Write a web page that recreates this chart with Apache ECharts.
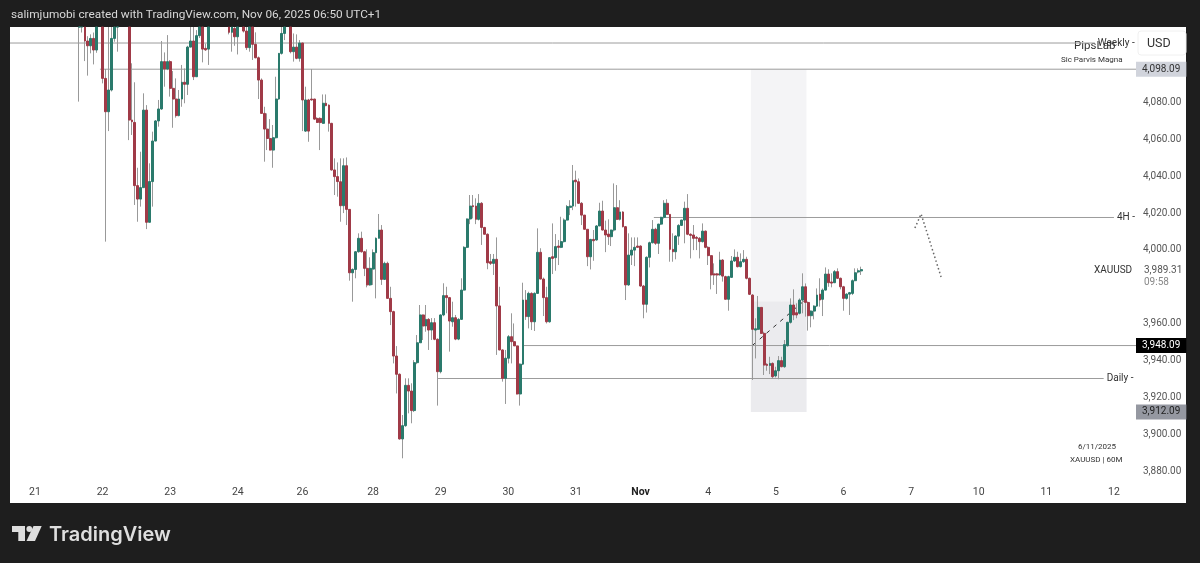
<!DOCTYPE html>
<html>
<head>
<meta charset="utf-8">
<title>XAUUSD 60M</title>
<script src="https://cdn.jsdelivr.net/npm/echarts@6/dist/echarts.min.js"></script>
<style>
html,body{margin:0;padding:0;background:#1e1e1e;}
#main{width:1200px;height:563px;}
</style>
</head>
<body>
<div id="main"></div>
<script>
// hourly candles, left to right (values above 4121 are off the top of the chart)
var opens = [
4128,4125,4125,4113.4,4110.8,4114.8,4108.5,4124,4125,4093.1,4075,4086.8,4114.8,4125,4126,4124,4127,4125,4070.5,4069.2,4034.9,4027.6,4033.8,4075.9,4015,4037.1,4059.1,4070,4076.5,4102.2,4098.2,4102.2,4087.7,4081.9,4072.9,4081.9,4091,4089.9,4110.1,4113.4,4094,4116.3,4122,4109.4,4109,
4125,4127,4124,4126,4123,4125,4124,4118.1,4120.2,4115.7,4124,4123,4118.8,4109.8,4122,4111.6,4104.3,4092.2,4074.1,4065.6,4060.5,4054.2,4060.9,4081.9,4106.7,4117.5,4124,4122.5,4107.6,4110.1,4104,4112.3,4064.5,4081.4,4081.9,4081.9,4071.4,4071.4,4068.7,4079.6,4078.6,4068.7,4043.4,4039.8,
4037,4024,4045.7,4022,3987.6,3989.4,3999,4006.3,3999,3990,3981,3989.6,3998.5,4006.3,4010.8,3984,3992.7,3973.7,3966.5,3942.4,3932.5,3897.4,3904.6,3926.5,3923.4,3912.8,3938.8,3949.6,3964.7,3958.7,3962.3,3956.5,3960.5,3951.5,3933.9,3964.7,3975.2,3974.1,3961,3963.2,3951.6,3962.3,3978.2,4001.4,4016.8,4024,4023.8,4016.6,4025.3,4012.2,4008.5,3993.6,3992.7,3994.9,3969.6,3945.7,3930.3,3941.2,3952.9,3950.2,3947.9,3921.8,
3938,3972.8,3963.8,3976.4,3961,3976.4,3998.7,3984.2,3974.1,3961,3996.3,3995.8,4002.1,4001.4,4004.5,4016.2,4023.1,4023.8,4037.9,4037,4025.3,4018.9,4011.2,3996.3,4005.7,4005.4,4013,4021.1,4010.8,4008.6,4007.2,4010.8,4022.9,4016.6,4020.6,4012.6,3981,3997.2,3999.9,4002.1,4002.1,3980.4,3970.5,3996,4003.9,4011.2,4003.6,4014,4017.7,4025.3,4019.3,4000.3,3999,4007.5,4013.3,4016.2,4022.6,4008.5,4008.1,4006.8,4006.3,4004.5,4010.2,4001.4,3996.9,3987,3987,3986.4,3994.5,3985.5,3973.2,3985.1,3994,3996,3990.9,3993.6,3994.9,3984.6,
3975.5,3956.5,3956.9,3968.8,3954.7,3937.9,3937.3,3938.4,3931.6,3934.4,3939.9,3936.6,3948,3960.7,3970.1,3965.9,3965.6,3972.8,3980,3971.5,3964.3,3966.8,3969.5,3976,3973.2,3978.2,3986.9,3982.6,3982.2,3988.2,3984.6,3980,3973.7,3976,3976.4,3983.3,3988,3988.6
];
var closes = [
4124,4122,4113.4,4110.8,4114.8,4108.5,4121.2,4125,4093.1,4075,4086.8,4114.8,4121.2,4126,4124,4127,4125,4070.5,4069.6,4034.9,4027.6,4033.8,4075.9,4015,4037.1,4059.1,4070,4076.5,4102.2,4098.2,4102.2,4087.7,4081.9,4072.9,4081.9,4091,4089.9,4110.1,4113.4,4094,4116.3,4121.2,4109,4108.6,4121.2,
4127,4124,4126,4123,4125,4124,4118.1,4121.2,4115.7,4121.2,4126,4118.8,4109.8,4121.2,4111.6,4104.3,4092.2,4074.1,4065.6,4060.5,4054.2,4060.9,4081.9,4106.7,4117.5,4121.2,4126,4107.6,4110.1,4104,4112.3,4081.4,4081.4,4064.5,4081.4,4071,4069.2,4069.1,4079.6,4078.3,4068.7,4043.4,4039.8,4037.1,
4024,4045.7,4022,3987.6,3989.4,3999,4006.3,3999,3990,3981,3990,3998.5,4006.3,4010.8,3984,3992.7,3973.7,3966.5,3942.4,3932.5,3897.4,3904.6,3926.5,3923.4,3912.8,3938.8,3949.6,3964.7,3958.7,3962.3,3956.5,3960.5,3951.5,3933.9,3964.7,3975.2,3974.1,3961.4,3963.2,3951.6,3962.3,3978.2,4001.4,4016.8,4023.8,4023.5,4016.6,4025.3,4012.2,4008.5,3993,3992.7,3994.9,3969.6,3945.7,3930.3,3941.2,3952.9,3950.2,3947.9,3921.8,3938,
3972.8,3963.8,3976.4,3961,3976.4,3998.7,3984.2,3974.1,3961,3995.8,3995.4,4001.8,4001.4,4004.5,4016.2,4023.5,4023.8,4037.6,4037,4025.3,4018.9,4011.2,3996.3,4005.7,4005,4013,4021.1,4010.8,4008.1,4007.2,4010.8,4022.9,4016.6,4020.6,4012.6,3981,3997.2,3999.9,4001.4,4001.4,3980.4,3970.5,3996,4003.9,4011.2,4003.6,4014,4017.7,4025.3,4019.3,4000.3,3999,4007.5,4013.3,4016.2,4022.6,4008.5,4007.9,4006.3,4006.3,4004.5,4010.2,4001.4,3996.9,3986.4,3986.4,3986.4,3994.5,3985.8,3973.2,3985.5,3994,3996,3990.9,3993.6,3994.9,3984.6,3975.9,
3956.9,3957.2,3968.8,3954.7,3937.5,3937.3,3938.4,3931.2,3934.4,3939.9,3936.6,3948.6,3960.7,3970.1,3964.7,3964.7,3972.8,3980,3971.5,3964.3,3966.8,3969.5,3975.5,3972.8,3978.2,3986.9,3982.2,3982,3988.2,3984.6,3980,3973.7,3976,3976.8,3983.3,3987.6,3988.7,3989.31
];
var highs = [
4131,4128,4128,4116,4117,4118,4125,4128,4127,4098.2,4122,4124,4125,4130,4130,4130,4130,4128,4101.3,4091,4044.6,4053.3,4085,4078.6,4047,4064.2,4070.5,4081.4,4113.4,4107.2,4116.6,4103,4097.1,4093.1,4086.8,4100.4,4098.5,4110.8,4122,4121.2,4119.3,4125,4125,4112,4125,
4130,4130,4130,4130,4130,4130,4127,4125,4124,4125,4130,4125,4122,4125,4125,4118.1,4105,4093.1,4077.7,4074.1,4071,4067.8,4094,4106.7,4122,4125,4130,4125,4117.5,4117,4113.9,4112.5,4088.6,4082,4098.2,4082,4072,4072,4084.4,4084.4,4079,4069,4049.7,4047.5,
4049.7,4049.7,4050.2,4022,3990,3999.4,4009,4009.9,3999.5,4000.3,3996,4000.3,4006.8,4019.5,4013.5,3993.6,3993.6,3980,3967,3947.8,3933,3910.4,3930.3,3930.3,3927.6,3940.2,3953.8,3970.1,3965,3970.1,3963,3963,3963,3952,3965,3981.9,3980,3974.5,3971.9,3964.7,3963,3984.6,4002,4017.1,4029.8,4029.8,4028,4030.3,4026,4012.5,4009,3997.8,3997.8,4006.8,3980,3946,3945.7,3953.8,3965.6,3960.1,3948,3938.4,
3982.2,3978.2,3977.3,3977,3977,4011.7,4000.9,3985,3980,3996,4014.4,4008.6,4005.4,4018,4017.1,4024.4,4027,4046.1,4043,4038.8,4026,4019,4010.8,4006,4010.8,4013.5,4025.6,4026.7,4015.9,4016.6,4011,4036.1,4035.2,4027,4021,4013,4009,4006.8,4006.8,4006.8,4002.5,3981,3996.5,4004.5,4016.2,4012,4014.2,4018,4027,4027.5,4019.5,4009,4008,4014,4016.4,4026.2,4030.3,4009,4013.5,4007.5,4007,4014.4,4010.5,4002,3997,3992.7,3987.5,3999,3995,3986,3986,3996.7,4000.3,3999,3998.1,3999.9,3996.3,3985,
3976,3962.9,3975,3969,3955.6,3938.5,3942,3939,3936.6,3942.4,3942,3951.1,3961,3973.7,3978.6,3971,3973.7,3987.3,3981.8,3972,3967.2,3970,3979.1,3984.6,3979.1,3990.5,3989.5,3987.3,3989.1,3990,3985,3980.5,3976.5,3977.2,3984,3990,3990,3990.9
];
var lows = [
4080.5,4118,4102.5,4094.6,4106.7,4100.7,4107,4122,4090.4,4004.5,4064.5,4086,4113,4107.6,4122,4122.5,4122,4059.6,4062.4,4024.4,4015.3,4023.5,4033.8,4011.3,4015,4023.5,4059,4066.9,4076,4088.6,4097.6,4083.2,4066.3,4071.8,4072.5,4077.7,4079.6,4084.1,4110,4092.2,4094,4115,4101.8,4108,4100.4,
4122,4122,4122,4122,4122,4122,4117,4107.6,4110.8,4106.1,4122,4118,4108.5,4107.6,4103.1,4104,4081.9,4074,4047.9,4054.2,4054,4044.6,4060.5,4081.5,4106,4113.9,4122,4106.7,4102.2,4103.5,4102.2,4064.5,4064,4058.7,4081,4070.5,4069,4054.2,4068.5,4078,4064.2,4043,4029.8,4028.9,
4015.3,4020,4013.5,3983.3,3971.9,3984.6,3998.5,3998.5,3985.8,3979.7,3980.5,3981,3973.7,4006.3,3981,3983.7,3973.7,3959.2,3938.4,3922.1,3897,3886.9,3904,3911.3,3905.9,3912,3938,3949.6,3951.1,3955.6,3945.7,3951.1,3951,3915.5,3933,3964,3965.6,3944.8,3958.3,3951,3951,3962,3978,4001,4014,4017.1,4014,4016,4002.7,4008.5,3989.5,3991.8,3986.4,3943,3945.5,3928.5,3916.4,3938.4,3938.4,3947.9,3921.5,3915.5,
3937.5,3962,3957.4,3956.5,3956,3976.4,3984,3964.1,3960.1,3960.5,3986.9,3988.7,3991.8,4001,4004,4016,4018.9,4021.6,4023.5,4025,4013.5,4011.2,3991.2,3989.4,3994.1,4005,4013,4010.5,3998.8,4002.7,4002.1,4010,4016.2,4016,4012.2,3972.8,3980.5,3991.8,3991.2,4001.4,3980,3962.9,3966,3990.5,4003.5,4002.7,3997.8,4013.5,4017,4019,3993.6,3993.6,3994.9,4002.7,4013,4003.6,4008,3995.4,3999.9,3999.9,3995.4,4004,4000.9,3991.8,3978.6,3981,3976.1,3986,3982.8,3973.2,3967,3985,3993.5,3990.5,3990.5,3993,3984,3975.5,
3929.4,3941.1,3956.5,3954.5,3932.1,3934.4,3932.6,3930.3,3930.8,3929.8,3936.3,3936,3947.5,3960,3961.9,3962.9,3965,3965.6,3963.8,3956.2,3958,3962.3,3969,3969.2,3964.1,3978,3980,3979.7,3982,3984.2,3978.6,3967,3973,3964.7,3975.5,3983,3987.3,3986.4
];
var firstSlot = 23;
var slotCount = 383;
var priceMin = 3880;
var priceMax = 4121;

var tickSlots = [8,31,54,77,99,123,146,169,192,214,237,260,283,306,329,352,375];
var tickLabels = ['21','22','23','24','26','28','29','30','31','Nov','4','5','6','7','10','11','12'];

// drawings on the chart, [slot, price]
var weeklyLine = [[0,4112.3],[369,4112.3]];
var topLevel = [[30.6,4098.09],[383,4098.09]];
var h4Line = [[219,4017.6],[375.5,4017.6]];
var midLevel = [[174.5,3948.09],[383,3948.09]];
var dailyLine = [[145.6,3930.2],[372,3930.2]];
var lowLevel = [[383,3912.09],[383,3912.09]];
var dashedMove = [[252.7,3948.4],[270.4,3972.8]];
var arrowPath = [[307.8,4011.9],[309.9,4019.5],[316.7,3985.3]];
var boxSlots = [252,270.9];
var boxPrices = [4098.09,3972,3912.09];

var categories = [];
for (var i = 0; i < slotCount; i++) categories.push('');
tickSlots.forEach(function (s, k) { categories[s] = tickLabels[k]; });

// the series does not trim wicks at the top of the grid, so cut them at the axis
function capped(v) { return Math.min(v, priceMax); }

var wicks = [], bodies = [];
for (var i = 0; i < opens.length; i++) {
    if (lows[i] >= priceMax) continue;
    var slot = firstSlot + i;
    var o = capped(opens[i]), c = capped(closes[i]);
    wicks.push([slot, o, c, lows[i], capped(highs[i])]);
    bodies.push([slot, o, c, Math.min(o, c), Math.max(o, c)]);
}

function levelLine(data, label, extra) {
    var s = {
        type: 'line',
        xAxisIndex: 1,
        data: data,
        symbol: 'none',
        silent: true,
        z: 1,
        lineStyle: { color: '#9c9c9c', width: 1 }
    };
    if (label) s.endLabel = Object.assign({
        show: true,
        formatter: label,
        color: '#333',
        fontSize: 10,
        fontFamily: 'Roboto',
        distance: 3
    }, extra || {});
    return s;
}

function tag(bg, color) {
    return { backgroundColor: bg, color: color, distance: 0, padding: [3, 6, 2, 6], fontSize: 10 };
}

var myChart = echarts.init(document.getElementById('main'), null, { renderer: 'canvas' });
var option = {
    backgroundColor: '#1e1e1e',
    animation: false,
    textStyle: { fontFamily: 'Roboto' },
    grid: { left: 10, top: 27, width: 1126, height: 444, containLabel: false },
    xAxis: [
        {
            type: 'category',
            data: categories,
            axisLine: { show: false },
            axisTick: { show: false },
            splitLine: { show: false },
            axisLabel: {
                interval: function (idx, v) { return v !== ''; },
                margin: 16,
                color: '#444',
                fontSize: 10.5,
                hideOverlap: false,
                formatter: function (v) { return v === 'Nov' ? '{b|Nov}' : v; },
                rich: { b: { fontWeight: 'bold', color: '#222', fontSize: 10.5 } }
            }
        },
        { type: 'value', min: 0, max: slotCount, show: false }
    ],
    yAxis: {
        type: 'value',
        position: 'right',
        min: priceMin,
        max: priceMax,
        interval: 20,
        axisLine: { show: false },
        axisTick: { show: false },
        splitLine: { show: false },
        axisLabel: {
            margin: 7,
            color: '#555',
            fontSize: 10,
            padding: [3, 0, 0, 0],
            showMinLabel: true,
            showMaxLabel: false,
            formatter: function (v) {
                if (v === 4100 || v === 3980 || v === 4120) return '';
                return v.toLocaleString('en-US', { minimumFractionDigits: 2 });
            }
        }
    },
    graphic: { elements: [
        { type: 'rect', shape: { x: 10, y: 27, width: 1176, height: 476 }, style: { fill: '#ffffff' }, z: -10 },
        { type: 'text', x: 11, y: 9.5, style: { text: 'salimjumobi created with TradingView.com, Nov 06, 2025 06:50 UTC+1', fill: '#d8d8d8', font: '11.8px Roboto' } },
        { type: 'rect', shape: { x: 1138, y: 31, width: 48, height: 24, r: 3 }, style: { fill: '#fff', stroke: '#f0f0f0' } },
        { type: 'text', x: 1147, y: 37, style: { text: 'USD', fill: '#333', font: '12.5px Roboto' } },
        { type: 'text', x: 1074, y: 40, style: { text: 'PipsLab', fill: '#333', font: '11.5px Roboto' } },
        { type: 'text', x: 1061, y: 56, style: { text: 'Sic Parvis Magna', fill: '#333', font: '8px Roboto' } },
        { type: 'text', x: 1094, y: 265, style: { text: 'XAUUSD', fill: '#333', font: '10px Roboto' } },
        { type: 'text', x: 1144, y: 265, style: { text: '3,989.31', fill: '#555', font: '10px Roboto' } },
        { type: 'text', x: 1144, y: 277, style: { text: '09:58', fill: '#888', font: '10px Roboto' } },
        { type: 'text', x: 1078, y: 443, style: { text: '6/11/2025', fill: '#333', font: '8px Roboto' } },
        { type: 'text', x: 1070, y: 456, style: { text: 'XAUUSD | 60M', fill: '#333', font: '8px Roboto' } },
        { type: 'rect', shape: { x: 12, y: 526, width: 13, height: 6 }, style: { fill: '#dedede' } },
        { type: 'rect', shape: { x: 18.3, y: 526, width: 6.7, height: 15 }, style: { fill: '#dedede' } },
        { type: 'circle', shape: { cx: 29.3, cy: 529, r: 2.9 }, style: { fill: '#dedede' } },
        { type: 'polygon', shape: { points: [[33.5,526],[41.7,526],[35,541],[26.5,541]] }, style: { fill: '#dedede' } },
        { type: 'text', x: 49, y: 525, style: { text: 'TradingView', fill: '#dedede', font: '600 20px Inter' } }
    ] },
    series: [
        {
            type: 'line',
            xAxisIndex: 1,
            data: dashedMove,
            symbol: 'none',
            silent: true,
            z: 1,
            lineStyle: { color: '#333', width: 1, type: [4, 5] },
            markArea: {
                silent: true,
                data: [
                    [{ coord: [boxSlots[0], boxPrices[0]], itemStyle: { color: '#f4f4f6' } }, { coord: [boxSlots[1], boxPrices[2]] }],
                    [{ coord: [boxSlots[0], boxPrices[1]], itemStyle: { color: '#ebebee' } }, { coord: [boxSlots[1], boxPrices[2]] }]
                ]
            }
        },
        levelLine(weeklyLine, 'Weekly -'),
        levelLine(topLevel, '4,098.09', tag('#d1d4dc', '#333')),
        levelLine(h4Line, '4H -'),
        levelLine(midLevel, '3,948.09', tag('#000', '#fff')),
        levelLine(dailyLine, 'Daily -'),
        levelLine(lowLevel, '3,912.09', tag('#9598a1', '#222')),
        {
            type: 'line',
            xAxisIndex: 1,
            data: arrowPath,
            symbol: 'none',
            silent: true,
            z: 1,
            lineStyle: { color: '#666', width: 1.5, type: [1.5, 2.5] }
        },
        {
            type: 'candlestick',
            data: wicks,
            barWidth: 1,
            silent: true,
            z: 2,
            encode: { x: 0, y: [1, 2, 3, 4] },
            itemStyle: { color: '#999', color0: '#999', borderColor: '#999', borderColor0: '#999', borderWidth: 1 }
        },
        {
            type: 'candlestick',
            data: bodies,
            barWidth: 2.4,
            silent: true,
            z: 3,
            encode: { x: 0, y: [1, 2, 3, 4] },
            itemStyle: { color: '#2a7a6c', color0: '#a03a47', borderColor: '#2a7a6c', borderColor0: '#a03a47', borderWidth: 1 }
        }
    ]
};
myChart.setOption(option);
</script>
</body>
</html>
